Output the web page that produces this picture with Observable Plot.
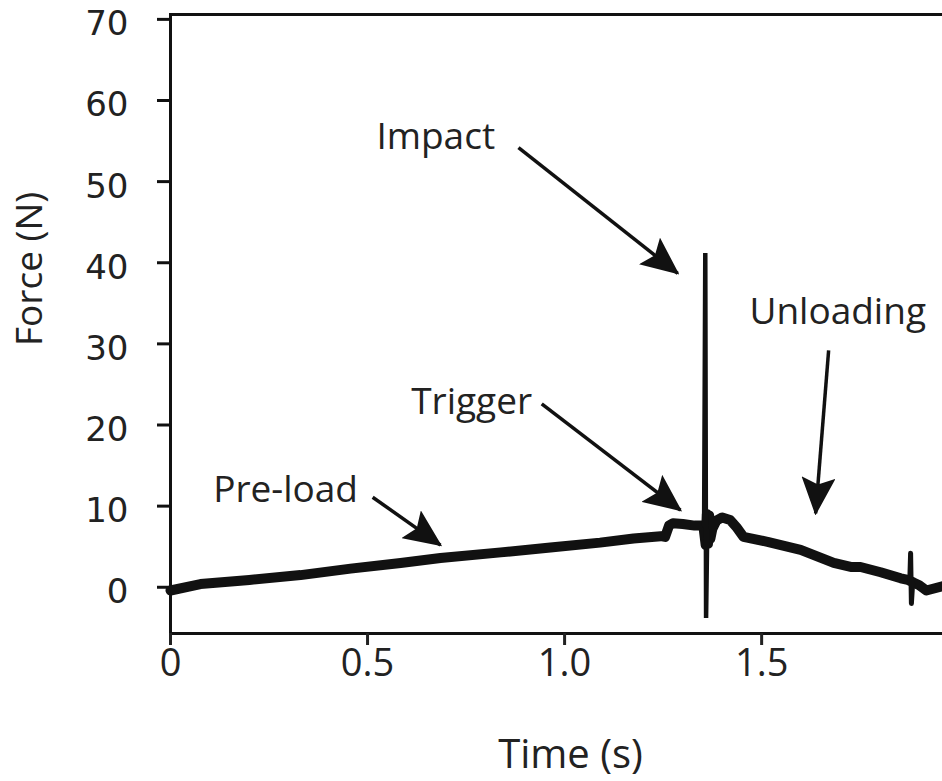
<!DOCTYPE html>
<html><head><meta charset="utf-8">
<script src="https://cdn.jsdelivr.net/npm/d3@7"></script>
<script src="https://cdn.jsdelivr.net/npm/@observablehq/plot@0.6"></script>
<style>html,body{margin:0;padding:0;background:#fff;overflow:hidden}</style>
</head><body><div id="chart"></div>
<script>
// Main force trace (time in s, force in N)
const time  = [0.000, 0.076, 0.200, 0.330, 0.457, 0.584, 0.685, 0.838, 0.964, 1.090, 1.175, 1.244, 1.255, 1.265, 1.275, 1.300, 1.330, 1.352, 1.358, 1.361, 1.364, 1.367, 1.370, 1.375, 1.385, 1.400, 1.420, 1.438, 1.454, 1.515, 1.599, 1.683, 1.726, 1.751, 1.802, 1.853, 1.871, 1.885, 1.900, 1.918, 1.964];
const force = [-0.4,  0.4,   0.9,   1.5,   2.3,   3.0,   3.6,   4.3,   4.9,   5.5,   6.0,   6.3,   6.2,   7.6,   7.9,   7.8,   7.6,   7.6,   5.2,   9.0,   5.4,   8.8,   6.0,   7.2,   8.2,   8.6,   8.3,   7.3,   6.2,   5.6,   4.6,   3.0,   2.5,   2.5,   1.85,  1.1,   0.9,   0.6,   0.25, -0.4,   0.2];
// Impact spike
const spikeTime  = [1.354, 1.357, 1.359, 1.362];
const spikeForce = [7.6, 41.2, -3.8, 7.0];
// Small spike near the end
const spike2Time  = [1.876, 1.878, 1.880, 1.883];
const spike2Force = [0.9, 4.2, -2.0, 0.4];
// Annotations
const labelText  = ["Impact", "Trigger", "Unloading", "Pre-load"];
const labelTime  = [0.673, 0.764, 1.693, 0.292];
const labelForce = [55.5, 22.8, 33.9, 12.0];
const arrowFromTime  = [0.883, 0.942, 1.670, 0.513];
const arrowFromForce = [54.2, 22.6, 29.2, 11.1];
const arrowToTime    = [1.287, 1.294, 1.637, 0.685];
const arrowToForce   = [38.7, 9.5, 9.1, 5.2];
// Axes
const xTicks = [0, 0.5, 1.0, 1.5];
const xTickLabels = ["0", "0.5", "1.0", "1.5"];
const yTicks = [0, 10, 20, 30, 40, 50, 60, 70];
const xDomain = [0, 1.964];
const yDomain = [-5.7, 70.6];
const xTitle = "Time (s)";
const yTitle = "Force (N)";

const trace = time.map((t, i) => ({t, f: force[i]}));
const spike = spikeTime.map((t, i) => ({t, f: spikeForce[i]}));
const spike2 = spike2Time.map((t, i) => ({t, f: spike2Force[i]}));
const labels = labelText.map((s, i) => ({s, t: labelTime[i], f: labelForce[i]}));
const arrows = arrowFromTime.map((t, i) => ({t1: t, f1: arrowFromForce[i], t2: arrowToTime[i], f2: arrowToForce[i]}));

const ink = "#111";
const textInk = "#222";

const svg = Plot.plot({
  width: 942,
  height: 781,
  marginLeft: 170,
  marginTop: 14,
  marginBottom: 148,
  marginRight: -2,
  style: {background: "#fff", fontFamily: "Open Sans"},
  x: {domain: xDomain},
  y: {domain: yDomain},
  marks: [
    Plot.frame({stroke: ink, strokeWidth: 3}),
    Plot.axisY(yTicks, {tickSize: 13, strokeWidth: 3, color: ink, label: null, tickFormat: () => ""}),
    Plot.axisY(yTicks, {tickSize: 0, tickPadding: 42, dy: 5, fontSize: 34, fontFamily: "DejaVu Sans", color: textInk, label: null}),
    Plot.axisX(xTicks, {tickSize: 12, tickPadding: 4, fontSize: 38, fontFamily: "Open Sans", strokeWidth: 3, color: textInk, label: null,
      tickFormat: d => xTickLabels[xTicks.indexOf(d)]}),
    Plot.text([xTitle], {frameAnchor: "bottom", lineAnchor: "top", dx: 13, dy: 106, fontSize: 40, fill: textInk, fontFamily: "Open Sans"}),
    Plot.text([yTitle], {frameAnchor: "left", rotate: -90, dx: -140, dy: 22, fontSize: 37, fill: textInk, fontFamily: "Open Sans"}),
    Plot.line(trace, {x: "t", y: "f", stroke: ink, strokeWidth: 10, strokeLinejoin: "round", strokeLinecap: "round"}),
    Plot.line(spike, {x: "t", y: "f", stroke: ink, strokeWidth: 4.5, strokeLinejoin: "miter", strokeMiterlimit: 40}),
    Plot.line(spike2, {x: "t", y: "f", stroke: ink, strokeWidth: 5, strokeLinejoin: "round"}),
    Plot.link(arrows, {x1: "t1", y1: "f1", x2: "t2", y2: "f2", stroke: ink, strokeWidth: 3.5}),
    Plot.text(labels, {x: "t", y: "f", text: "s", fontSize: 37, fill: textInk, fontFamily: "Open Sans", textAnchor: "middle"})
  ]
});

// Filled arrowheads for the annotation links
const s = d3.select(svg);
const defs = s.insert("defs", ":first-child");
defs.append("marker")
  .attr("id", "ahead")
  .attr("viewBox", "0 0 38 34")
  .attr("markerWidth", 38)
  .attr("markerHeight", 34)
  .attr("markerUnits", "userSpaceOnUse")
  .attr("refX", 36)
  .attr("refY", 17)
  .attr("orient", "auto")
  .append("path")
  .attr("d", "M0,0 L38,17 L0,34 L7,17 Z")
  .attr("fill", ink);
s.selectAll('g[aria-label="link"] path').attr("marker-end", "url(#ahead)");

document.getElementById("chart").appendChild(svg);
</script>
</body></html>
